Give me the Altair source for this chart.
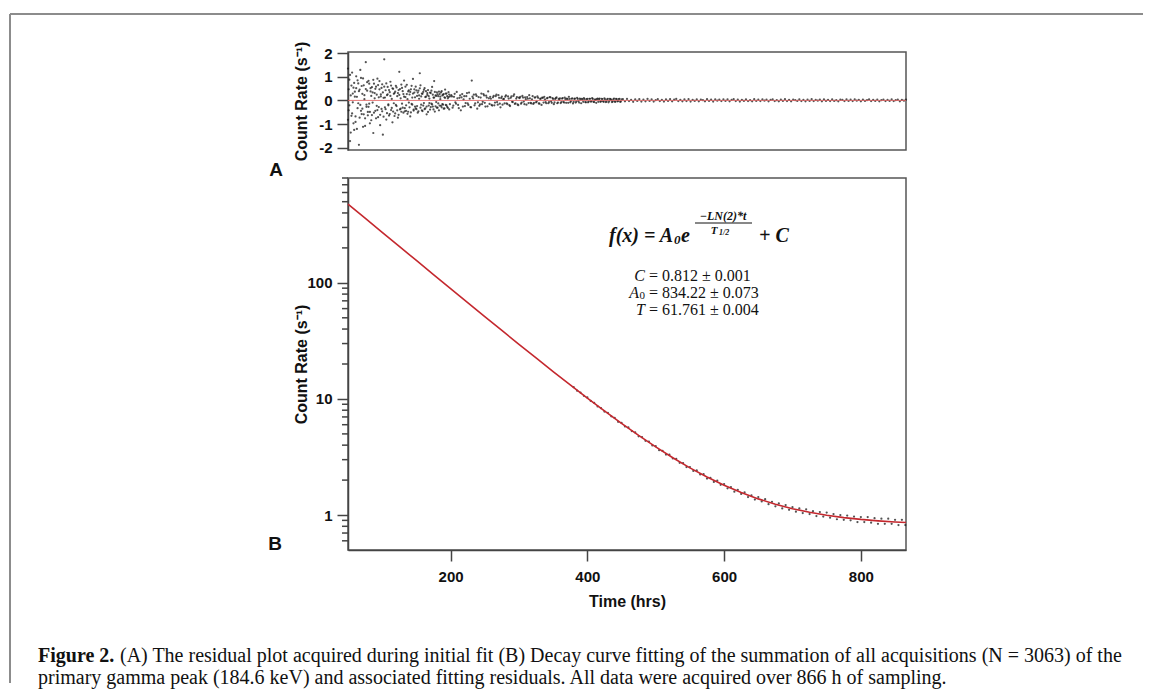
import altair as alt
import pandas as pd

# ------------------------------------------------------------------ data
# Fit curve (time in hrs, count rate in s^-1)
fit_t = [50, 75, 100, 125, 150, 175, 200, 225, 250, 275, 300, 325, 350, 375,
         400, 425, 450, 475, 500, 525, 550, 575, 600, 625, 650, 675, 700, 725,
         750, 775, 800, 825, 850, 866]
fit_rate = [476.7, 360.3, 272.3, 205.9, 155.8, 117.8, 89.2, 67.55, 51.24, 38.9,
            29.58, 22.55, 17.22, 13.21, 10.18, 7.886, 6.156, 4.848, 3.861, 3.115,
            2.551, 2.126, 1.805, 1.562, 1.378, 1.240, 1.135, 1.056, 0.996, 0.951,
            0.917, 0.891, 0.872, 0.862]

# Measured points visible around the tail of the decay curve
meas_t = list(range(380, 866, 5))
meas_rate = [12.64, 11.78, 11.34, 10.64, 10.31, 9.61, 9.27, 8.62, 8.33, 7.79,
             7.60, 7.08, 6.87, 6.36, 6.21, 5.79, 5.68, 5.29, 5.15, 4.77,
             4.68, 4.36, 4.30, 3.98, 3.92, 3.62, 3.57, 3.32, 3.31, 3.07,
             3.05, 2.82, 2.80, 2.59, 2.59, 2.40, 2.42, 2.24, 2.25, 2.06,
             2.09, 1.93, 1.98, 1.82, 1.85, 1.70, 1.74, 1.59, 1.65, 1.52,
             1.57, 1.43, 1.48, 1.36, 1.43, 1.31, 1.37, 1.24, 1.30, 1.19,
             1.26, 1.14, 1.22, 1.11, 1.17, 1.07, 1.14, 1.04, 1.12, 1.02,
             1.08, 0.98, 1.06, 0.97, 1.05, 0.95, 1.02, 0.92, 1.00, 0.91,
             0.99, 0.90, 0.97, 0.87, 0.96, 0.87, 0.96, 0.86, 0.94, 0.84,
             0.93, 0.84, 0.93, 0.84, 0.91, 0.82, 0.91, 0.82]

# Residuals (panel A)
res_t1 = list(range(50, 200))
res_v1 = [1.35, -0.42, 0.88, -1.72, 0.21, -0.65, 1.18, -0.08, 0.54, -1.25,
          0.37, -0.91, 1.02, 0.15, -0.33, 0.72, -1.88, 0.46, -0.19, 0.95,
          -0.58, 0.28, -1.12, 0.64, 0.05, -0.76, 1.62, -0.27, 0.41, -0.49,
          0.83, -0.14, -0.97, 0.52, 0.19, -0.62, 0.34, -1.38, 0.71, 0.09,
          -0.44, 0.58, -0.23, 0.92, -0.71, 0.13, 0.47, -1.05, 0.26, -0.36,
          0.68, -1.45, 0.11, 1.74, -0.29, 0.43, -0.81, 0.22, 0.57, -0.17,
          -0.64, 0.35, 0.79, -0.41, 0.06, -0.93, 0.49, -0.12, 0.31, -0.55,
          0.62, -0.24, 0.18, -0.73, 0.44, 1.21, -0.38, 0.09, -0.48, 0.53,
          -0.31, 0.27, 0.84, -0.46, 0.14, -0.21, 0.66, -0.57, 0.38, -0.09,
          0.25, -0.68, 0.47, -0.15, 0.12, 0.91, -0.43, 0.33, -0.26, 0.58,
          -0.37, 0.19, -0.52, 0.41, 0.07, 1.15, 0.64, -0.18, 0.29, -0.45,
          0.36, -0.11, 0.52, -0.34, 0.16, -0.59, 0.23, 0.44, -0.22, 0.08,
          -0.39, 0.31, -0.14, 0.57, -0.26, 0.12, 0.82, -0.47, 0.21, -0.07,
          0.34, -0.31, 0.18, -0.42, 0.27, 0.05, -0.23, 0.39, -0.16, 0.24,
          -0.35, 0.13, 0.46, -0.19, 0.29, -0.27, 0.09, 0.35, -0.38, 0.17]
res_t1b = list(range(50, 200))
res_v1b = [-0.82, 0.47, -0.21, 1.08, -1.36, 0.63, -0.55, 0.29, -0.97, 0.74,
           0.16, -0.68, 0.52, -1.21, 0.85, -0.12, 0.39, -0.73, 1.29, -0.44,
           0.61, -0.35, 0.93, -0.59, 0.22, -1.08, 0.48, -0.18, 0.77, -0.63,
           -0.27, 0.71, -0.49, 0.38, -0.84, 0.56, -0.09, 0.87, -0.52, 0.31,
           0.49, -0.76, 0.24, -0.41, 0.65, -0.28, 0.82, -0.61, 0.17, 0.53,
           -0.46, 0.34, -0.69, 0.58, 0.12, -0.37, 0.72, -0.54, 0.26, -0.21,
           0.44, -0.58, 0.19, 0.63, -0.32, 0.51, -0.47, 0.28, -0.66, 0.37,
           -0.19, 0.55, -0.42, 0.31, -0.61, 0.23, 0.48, -0.35, 0.67, -0.14,
           0.39, -0.52, 0.16, -0.33, 0.58, -0.44, 0.27, 0.05, -0.48, 0.43,
           -0.29, 0.36, -0.51, 0.62, -0.18, 0.29, -0.39, 0.47, 0.13, -0.34,
           0.42, -0.24, 0.33, -0.46, 0.21, 0.51, -0.31, 0.17, -0.42, 0.28,
           -0.22, 0.45, -0.37, 0.14, 0.39, -0.26, 0.31, -0.49, 0.18, -0.11,
           0.33, -0.28, 0.41, -0.17, 0.24, -0.38, 0.12, 0.36, -0.25, 0.19,
           -0.31, 0.26, -0.13, 0.37, -0.22, 0.16, 0.34, -0.29, 0.21, -0.18,
           0.27, -0.34, 0.11, 0.29, -0.21, 0.18, -0.32, 0.14, 0.25, -0.16]
res_t2 = list(range(201, 450, 2))
res_v2 = [0.22, -0.31, 0.15, -0.08, 0.36, -0.19, 0.11, -0.42, 0.27, 0.04,
          -0.24, 0.18, -0.13, 0.33, -0.28, 0.84, 0.09, -0.21, 0.26, -0.35,
          0.14, -0.17, 0.29, -0.06, 0.21, -0.26, 0.12, 0.38, -0.15, 0.07,
          -0.22, 0.19, -0.09, 0.24, -0.18, 0.11, -0.29, 0.16, 0.05, -0.13,
          0.21, -0.16, 0.08, -0.24, 0.17, -0.07, 0.26, -0.12, 0.14, -0.2,
          0.1, -0.14, 0.19, -0.05, 0.13, -0.18, 0.07, 0.22, -0.1, 0.04,
          -0.15, 0.12, -0.08, 0.17, -0.13, 0.06, -0.19, 0.11, 0.15, -0.07,
          0.09, -0.12, 0.14, -0.04, 0.1, -0.16, 0.06, 0.13, -0.09, 0.03,
          -0.11, 0.08, -0.06, 0.12, -0.1, 0.05, 0.15, -0.08, 0.07, -0.13,
          0.06, -0.09, 0.11, -0.03, 0.08, -0.12, 0.04, 0.1, -0.07, 0.05,
          -0.08, 0.07, -0.05, 0.1, -0.06, 0.03, -0.1, 0.08, 0.05, -0.06,
          0.07, -0.04, 0.09, -0.07, 0.04, -0.08, 0.06, 0.02, -0.05, 0.08,
          -0.06, 0.05, -0.03, 0.07, -0.05]
res_t2b = list(range(202, 451, 2))
res_v2b = [0.17, -0.22, 0.28, -0.14, 0.09, -0.33, 0.21, 0.13, -0.26, 0.18,
           -0.11, 0.31, -0.19, 0.07, -0.29, 0.16, 0.24, -0.13, 0.19, -0.08,
           -0.23, 0.12, -0.16, 0.27, -0.1, 0.2, -0.25, 0.09, 0.15, -0.19,
           0.13, -0.21, 0.18, -0.07, 0.22, -0.14, 0.1, -0.18, 0.06, 0.16,
           -0.12, 0.17, -0.2, 0.11, -0.06, 0.19, -0.15, 0.08, -0.17, 0.12,
           0.15, -0.09, 0.12, -0.16, 0.05, 0.14, -0.11, 0.09, -0.13, 0.18,
           -0.1, 0.13, -0.05, 0.11, -0.14, 0.08, 0.12, -0.09, 0.04, -0.12,
           0.11, -0.07, 0.13, -0.1, 0.06, -0.08, 0.1, -0.12, 0.07, 0.09,
           -0.07, 0.1, -0.09, 0.05, 0.08, -0.1, 0.06, -0.04, 0.09, -0.06,
           0.08, -0.05, 0.06, -0.09, 0.04, 0.07, -0.06, 0.05, -0.08, 0.06,
           -0.05, 0.07, -0.04, 0.06, -0.07, 0.03, 0.05, -0.06, 0.08, -0.04,
           0.05, -0.06, 0.04, -0.05, 0.07, -0.03, 0.05, -0.07, 0.04, -0.05,
           0.06, -0.04, 0.05, -0.06, 0.04]
res_t3 = list(range(452, 867, 3))
res_v3 = [0.05, -0.04, 0.06, -0.03, 0.02, -0.06, 0.04, -0.02, 0.05, -0.05,
          0.03, -0.04, 0.06, -0.02, 0.04, -0.05, 0.01, 0.05, -0.03, 0.02,
          -0.05, 0.04, -0.02, 0.05, -0.04, 0.03, 0.06, -0.03, 0.02, -0.04,
          0.04, -0.03, 0.05, -0.05, 0.02, -0.02, 0.04, -0.04, 0.03, 0.01,
          -0.04, 0.05, -0.02, 0.03, -0.05, 0.04, -0.01, 0.03, -0.03, 0.04,
          -0.02, 0.04, -0.04, 0.02, 0.05, -0.03, 0.03, -0.05, 0.02, -0.02,
          0.04, -0.03, 0.01, -0.04, 0.05, -0.02, 0.03, -0.03, 0.04, -0.01,
          0.03, -0.04, 0.02, 0.04, -0.03, 0.01, -0.04, 0.03, -0.02, 0.05,
          -0.03, 0.02, -0.04, 0.03, 0.01, -0.02, 0.04, -0.03, 0.02, -0.04,
          0.03, -0.02, 0.05, -0.03, 0.02, -0.01, 0.03, -0.04, 0.04, -0.02,
          0.02, -0.03, 0.04, -0.02, 0.01, -0.04, 0.03, 0.02, -0.03, 0.04,
          -0.02, 0.03, -0.03, 0.04, -0.01, 0.02, -0.04, 0.03, -0.02, 0.01,
          0.04, -0.03, 0.02, -0.02, 0.03, -0.04, 0.01, 0.03, -0.03, 0.02,
          -0.02, 0.04, -0.03, 0.01, 0.03, -0.04, 0.02, -0.01, 0.03]

x_ticks = [200, 400, 600, 800]
res_ticks = [-2, -1, 0, 1, 2]
log_major = [1, 10, 100]
log_minor = [0.6, 0.7, 0.8, 0.9, 2, 3, 4, 5, 6, 7, 8, 9,
             20, 30, 40, 50, 60, 70, 80, 90, 200, 300, 400, 500, 600, 700, 800]

Y_TITLE = "Count Rate (s⁻¹)"
X_TITLE = "Time (hrs)"
PARAM_VARS = ["C", "A", "T"]
PARAM_VALS = ["= 0.812 ± 0.001", "= 834.22 ± 0.073", "= 61.761 ± 0.004"]
CAP_BOLD = "Figure 2."
CAP_L1 = ("(A) The residual plot acquired during initial fit (B) Decay curve fitting "
          "of the summation of all acquisitions (N = 3063) of the")
CAP_L2 = ("primary gamma peak (184.6 keV) and associated fitting residuals. "
          "All data were acquired over 866 h of sampling.")

# ------------------------------------------------------------------ frames
res_rows = list(zip(res_t1 + res_t1b + res_t2 + res_t2b + res_t3,
                    res_v1 + res_v1b + res_v2 + res_v2b + res_v3))
res_df = pd.DataFrame(res_rows, columns=["t", "r"])
zero_df = pd.DataFrame({"r": [0.0]})
fit_df = pd.DataFrame({"t": fit_t, "rate": fit_rate})
meas_df = pd.DataFrame(list(zip(meas_t, meas_rate)), columns=["t", "rate"])
minor_df = pd.DataFrame({"rate": log_minor})
one = pd.DataFrame({"k": [0]})

W, H_TOP, H_BOT = 558, 98, 372
SANS = "Liberation Sans"
SERIF = "Liberation Serif"
INK = "#111111"

x_scale = alt.Scale(domain=[50, 866], nice=False, zero=False)

# ------------------------------------------------------------------ panel A
y_res = alt.Y("r:Q", scale=alt.Scale(domain=[-2.1, 2.05], nice=False, zero=False),
              axis=alt.Axis(values=res_ticks, tickSize=11, labelPadding=5,
                            labelExpr="datum.value < 0 ? '-' + abs(datum.value) : '' + datum.value",
                            title=Y_TITLE, titleX=-47, titleY=H_TOP / 2,
                            titleBaseline="middle"))
x_res = alt.X("t:Q", scale=x_scale, axis=None)

frame_top = alt.Chart(one).mark_rule(color="#8c8c8c", strokeWidth=2).encode(
    x=alt.value(-338), x2=alt.value(795), y=alt.value(-38))
frame_left = alt.Chart(one).mark_rule(color="#8c8c8c", strokeWidth=2).encode(
    x=alt.value(-338), y=alt.value(-38), y2=alt.value(631))

res_pts = alt.Chart(res_df).mark_circle(size=5, color="#1a1a1a", opacity=0.75).encode(
    x=x_res, y=y_res)
zero_line = alt.Chart(zero_df).mark_rule(color="#e0605f", strokeWidth=1, opacity=0.85).encode(
    y=y_res)

top = alt.layer(frame_top, frame_left, res_pts, zero_line).properties(width=W, height=H_TOP)

# ------------------------------------------------------------------ panel B
y_log = alt.Y("rate:Q",
              scale=alt.Scale(type="log", domain=[0.5, 800], nice=False),
              axis=alt.Axis(values=log_major, format="d", tickSize=11, labelPadding=5,
                            title=Y_TITLE, titleX=-47, titleY=H_BOT / 2,
                            titleBaseline="middle"))
x_bot = alt.X("t:Q", scale=x_scale,
              axis=alt.Axis(values=x_ticks, tickSize=11, labelPadding=8,
                            title=X_TITLE, titleY=51, titleBaseline="middle"))

minor_ticks = alt.Chart(minor_df).mark_rule(color="#444444", strokeWidth=1.5).encode(
    y=y_log, x=alt.value(-6), x2=alt.value(0))
meas_pts = alt.Chart(meas_df).mark_circle(size=5, color="#1a1a1a", opacity=0.75).encode(
    x=x_bot, y=y_log)
fit_line = alt.Chart(fit_df).mark_line(color="#c4282e", strokeWidth=1.6).encode(
    x=x_bot, y=y_log)


def label(text, x, y, size, font, weight="normal", style="normal", align="left"):
    return alt.Chart(one).mark_text(
        text=text, font=font, fontSize=size, fontWeight=weight, fontStyle=style,
        align=align, baseline="middle", color=INK
    ).encode(x=alt.value(x), y=alt.value(y))


BI = dict(weight="bold", style="italic")
texts = [
    label("A", -72, -8, 19, SANS, weight="bold", align="center"),
    label("B", -73, 366, 19, SANS, weight="bold", align="center"),
    # f(x) = A0 e^(-LN(2)*t / T1/2) + C
    label("f(x) = A", 261, 58, 20, SERIF, **BI),
    label("0", 326, 62, 13, SERIF, **BI),
    label("e", 333, 58, 20, SERIF, **BI),
    label("−LN(2)*t", 375, 38, 12, SERIF, **BI, align="center"),
    label("T", 366, 53, 11, SERIF, **BI, align="center"),
    label("1/2", 371, 55, 8, SERIF, **BI),
    label("+ C", 411, 58, 20, SERIF, **BI),
    # fitted parameters
    label(PARAM_VARS[0], 297, 98, 16, SERIF, style="italic", align="right"),
    label(PARAM_VARS[1], 291, 115, 16, SERIF, style="italic", align="right"),
    label("0", 297, 118, 11, SERIF, align="right"),
    label(PARAM_VARS[2], 297, 132, 16, SERIF, style="italic", align="right"),
    label(PARAM_VALS[0], 301, 98, 16, SERIF),
    label(PARAM_VALS[1], 301, 115, 16, SERIF),
    label(PARAM_VALS[2], 301, 132, 16, SERIF),
    # caption
    label(CAP_BOLD, -310, 478, 20, SERIF, weight="bold"),
    label(CAP_L1, -228, 478, 20, SERIF),
    label(CAP_L2, -310, 500, 20, SERIF),
]
frac_bar = alt.Chart(one).mark_rule(color=INK, strokeWidth=1).encode(
    x=alt.value(347), x2=alt.value(404), y=alt.value(45))

bottom = alt.layer(meas_pts, fit_line, minor_ticks, frac_bar, *texts).properties(
    width=W, height=H_BOT)

chart = alt.vconcat(top, bottom, spacing=28, bounds="flush").properties(
    padding={"left": 0, "top": 4, "right": 0, "bottom": 0}
).configure_view(
    stroke="#555555", strokeWidth=1.5
).configure_axis(
    grid=False, domainColor="#444444", domainWidth=1.5, tickColor="#444444",
    tickWidth=1.5, labelFont=SANS, labelFontWeight="bold", labelFontSize=15,
    labelColor=INK, titleFont=SANS, titleFontWeight="bold", titleFontSize=16,
    titleColor=INK
)

chart.save("out.html", embed_options={"renderer": "svg", "actions": False})
